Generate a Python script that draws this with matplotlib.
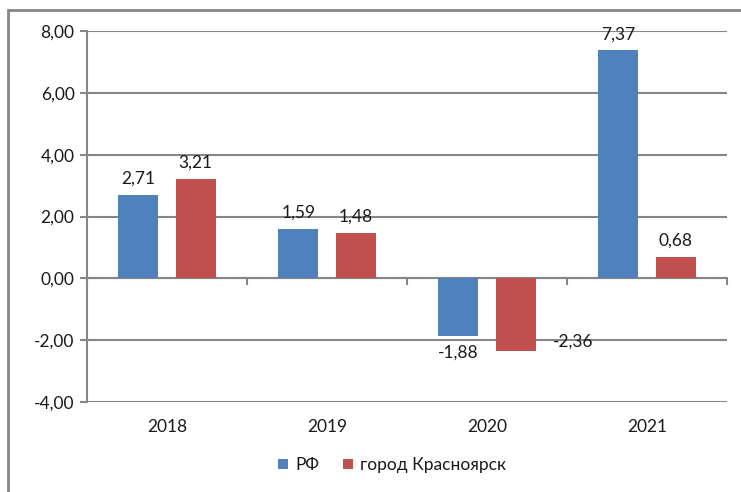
import matplotlib
matplotlib.use("Agg")
import matplotlib.pyplot as plt
import numpy as np
from matplotlib.patches import Rectangle

plt.rcParams['font.family'] = ['Lato', 'DejaVu Sans']

years = ["2018", "2019", "2020", "2021"]
rf = [2.71, 1.59, -1.88, 7.37]
krasnoyarsk = [3.21, 1.48, -2.36, 0.68]
series_names = ["РФ", "город Красноярск"]
yticks = [-4, -2, 0, 2, 4, 6, 8]

blue = "#4F81BD"
red = "#C0504D"
grid = "#868686"
txt = "#1a1a1a"
fs = 12.5

fig = plt.figure(figsize=(7.41, 4.92), dpi=100)
W, H = 741, 492
ax = fig.add_axes([87 / W, (H - 402) / H, (727 - 87) / W, (402 - 31) / H])

x = np.arange(len(years))
off = 0.18
w = 0.25
b1 = ax.bar(x - off, rf, width=w, color=blue, label=series_names[0], zorder=3)
b2 = ax.bar(x + off, krasnoyarsk, width=w, color=red, label=series_names[1], zorder=3)

ax.set_xlim(-0.5, len(years) - 0.5)
ax.set_ylim(-4, 8)
ax.set_yticks(yticks)
ax.set_yticklabels([f"{v:.2f}".replace(".", ",") for v in yticks])
ax.yaxis.grid(True, color=grid, linewidth=1.5, zorder=0)
ax.set_axisbelow(True)

for s in ["top", "right", "bottom"]:
    ax.spines[s].set_visible(False)
ax.spines["left"].set_color(grid)
ax.spines["left"].set_linewidth(1.5)
ax.tick_params(axis="y", length=5, width=1.5, color=grid, labelsize=fs, labelcolor=txt, pad=4)

ax.set_xticks(x)
ax.set_xticklabels(years)
ax.tick_params(axis="x", length=0, labelsize=fs, labelcolor=txt, pad=12)

ax.axhline(0, color=grid, linewidth=1.5, zorder=2)
for b in np.arange(-0.5, len(years), 1.0):
    ax.plot([b, b], [0, -0.17], color=grid, linewidth=1.5, zorder=2, clip_on=False)

def fmt(v):
    return f"{v:.2f}".replace(".", ",")

for xi, v in zip(x, rf):
    if v >= 0:
        ax.annotate(fmt(v), (xi - off, v), xytext=(0, 6), textcoords="offset points",
                    ha="center", va="bottom", fontsize=fs, color=txt)
    else:
        ax.annotate(fmt(v), (xi - off, v), xytext=(0, -6), textcoords="offset points",
                    ha="center", va="top", fontsize=fs, color=txt)
for xi, v in zip(x, krasnoyarsk):
    if v >= 0:
        ax.annotate(fmt(v), (xi + off, v), xytext=(0, 6), textcoords="offset points",
                    ha="center", va="bottom", fontsize=fs, color=txt)
    else:
        ax.annotate(fmt(v), (xi + off, v), xytext=(41, 7), textcoords="offset points",
                    ha="center", va="center", fontsize=fs, color=txt)

leg = fig.legend(handles=[b1, b2], loc="center", bbox_to_anchor=(392 / W, (H - 465) / H),
                 ncol=2, frameon=False, fontsize=fs, handlelength=0.55, handleheight=0.55,
                 handletextpad=0.4, columnspacing=1.4, labelcolor=txt)

fig.patches.append(Rectangle((8 / W, -0.1), 1.0, (H - 10) / H + 0.1, transform=fig.transFigure,
                             fill=False, edgecolor=grid, linewidth=2.0))

fig.savefig("out.png", dpi=100, facecolor="white")
